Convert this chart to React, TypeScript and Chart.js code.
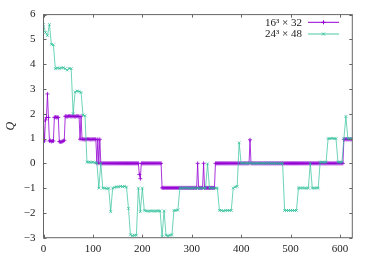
import React, { useEffect, useRef } from "react";
import { Chart, registerables } from "chart.js";

Chart.register(...registerables);

// configuration spacing of the two Monte-Carlo histories
const PURPLE_STEP = 2;
const GREEN_STEP = 4;

// 16^3 x 32 : Q at configurations 0, 2, 4, ... 624
const purpleQ: number[] = [
  1.7, 0.9, 1.75, 1.85, 2.8, 1.85, 0.9, 0.92, 0.88, 0.9,
  0.9, 1.85, 1.87, 1.85, 1.86, 1.85, 0.88, 0.86, 0.87, 0.88,
  0.9, 0.93, 1.9, 1.9, 1.88, 1.9, 1.91, 1.9, 1.89, 1.9,
  1.9, 1.9, 1.88, 1.9, 1.9, 1.9, 1.89, 0.97, 1.9, 0.97,
  0.97, 0.97, 0.96, 0.97, 0.97, 0.98, 0.97, 0.97, 0.96, 0.97,
  0.97, 0.97, 0.97, 0.97, 0.0, 0.97, 0.0, 0.97, 0.0, 0.0,
  0, 0, 0, 0, 0, 0, 0, 0, 0, 0,
  0, 0, 0, 0, 0, 0, 0, 0, 0, 0,
  0, 0, 0, 0, 0, 0, 0, 0, 0, 0,
  0, 0, 0, 0, 0, 0, 0, -0.45, -0.62, 0,
  0, 0, 0, 0, 0, 0, 0, 0, 0, 0,
  0, 0, 0, 0, 0, 0, 0, 0, 0, 0,
  -0.99, -0.99, -0.99, -0.99, -0.99, -0.99, -0.99, -0.99, -0.99, -0.99,
  -0.99, -0.99, -0.99, -0.99, -0.99, -0.99, -0.99, -0.99, -0.99, -0.99,
  -0.99, -0.99, -0.99, -0.99, -0.99, -0.99, -0.99, -0.99, -0.99, -0.99,
  -0.99, -0.99, -0.99, -0.99, -0.99, -0.99, 0, -0.99, -0.99, -0.99,
  -0.99, -0.99, 0, -0.99, -0.99, -0.99, -0.99, -0.99, -0.99, -0.99,
  -0.99, -0.99, -0.99, -0.99, 0, 0, 0, 0, 0, 0,
  0, 0, 0, 0, 0, 0, 0, 0, 0, 0,
  0, 0, 0, 0, 0, 0, 0, 0, 0, 0,
  0, 0, 0, 0, 0, 0, 0, 0, 0, 0.95,
  0, 0, 0, 0, 0, 0, 0, 0, 0, 0,
  0, 0, 0, 0, 0, 0, 0, 0, 0, 0,
  0, 0, 0, 0, 0, 0, 0, 0, 0, 0,
  0, 0, 0, 0, 0, 0, 0, 0, 0, 0,
  0, 0, 0, 0, 0, 0, 0, 0, 0, 0,
  0, 0, 0, 0, 0, 0, 0, 0, 0, 0,
  0, 0, 0, 0, 0, 0, 0, 0, 0, 0,
  0, 0, 0, 0, 0, 0, 0, 0, 0, 0,
  0, 0, 0, 0, 0, 0, 0, 0, 0, 0,
  0, 0, 0, 0, 0.97, 0.97, 0.97, 0.97, 0.97, 0.97,
  0.97, 0.97, 0.97,
];

// 24^3 x 48 : Q at configurations 0, 4, 8, ... 624
const greenQ: number[] = [
  5.6, 5.28, 5.15, 5.6, 4.8, 4.78, 3.82, 3.85, 3.83, 3.85,
  3.86, 3.82, 3.76, 3.83, 3.82, 2.0, 2.88, 2.92, 2.9, 2.86,
  1.95, 1.92, 0.05, 0.05, 0.04, 0.05, 0.03, 0.02, -1.0, 0.0,
  -1.0, -1.0, -1.02, -1.0, -1.95, -1.0, -0.97, -0.95, -0.95, -0.93,
  -0.94, -0.93, -0.96, -1.82, -2.88, -2.92, -2.9, -2.9, -1.0, -1.95,
  -1.0, -1.9, -1.92, -1.93, -1.92, -1.92, -1.93, -1.92, -1.92, -1.92,
  -2.95, -1.92, -2.9, -2.92, -2.9, -2.88, -1.9, -1.9, -1.88, -1.0,
  -1.0, -1.0, -0.98, -1.0, -1.0, -1.0, -0.99, -1.0, -1.0, -1.0,
  -1.0, -1.0, -1.0, -0.02, -1.0, -1.0, -1.0, -1.0, -1.0, -1.9,
  -1.9, -1.92, -1.9, -1.9, -1.9, -1.9, -1.0, -0.95, -0.93, 0.83,
  0.0, 0.02, 0.0, 0.01, 0.0, 0.02, 0.0, 0.0, 0.01, 0.0,
  0.0, 0.01, 0.0, 0.0, 0.02, 0.0, 0.0, 0.01, 0.0, 0.0,
  0.0, 0.0, -1.9, -1.9, -1.9, -1.9, -1.9, -1.9, -1.9, -0.99,
  -1.0, -0.99, -1.0, -1.0, -1.0, 0.0, -1.0, -1.0, -0.99, -1.0,
  0.05, 0.05, 0.04, 0.05, 1.0, 1.0, 1.01, 1.0, 1.0, 0.05,
  0.05, 0.05, 1.0, 1.89, 1.0, 1.0, 1.0,
];

const xTickValues = [0, 100, 200, 300, 400, 500, 600];
const yTickValues = [-3, -2, -1, 0, 1, 2, 3, 4, 5, 6];
const X_MIN = 0;
const X_MAX = 625;
const Y_MIN = -3;
const Y_MAX = 6;
const seriesLabels = ["16³ × 32", "24³ × 48"];
const yTitle = "Q";

const PURPLE = "#9400d3";
const GREEN = "rgba(40,190,150,0.85)";
const FONT = "'Liberation Serif', 'DejaVu Serif', serif";

const framePlugin = {
  id: "gnuFrame",
  afterDraw(chart: any) {
    const { ctx, chartArea, scales } = chart;
    const { left, right, top, bottom } = chartArea;
    const xs = scales.x;
    const ys = scales.y;
    ctx.save();
    ctx.strokeStyle = "#666";
    ctx.lineWidth = 1;
    ctx.strokeRect(left, top, right - left, bottom - top);
    ctx.beginPath();
    const tl = 3;
    for (const v of xTickValues) {
      const px = Math.round(xs.getPixelForValue(v)) + 0.5;
      ctx.moveTo(px, bottom);
      ctx.lineTo(px, bottom - tl);
      ctx.moveTo(px, top);
      ctx.lineTo(px, top + tl);
    }
    for (const v of yTickValues) {
      const py = Math.round(ys.getPixelForValue(v)) + 0.5;
      ctx.moveTo(left, py);
      ctx.lineTo(left + tl, py);
      ctx.moveTo(right, py);
      ctx.lineTo(right - tl, py);
    }
    ctx.stroke();

    // y axis title
    ctx.fillStyle = "#222";
    ctx.font = `italic 12px ${FONT}`;
    ctx.textAlign = "center";
    ctx.textBaseline = "middle";
    ctx.save();
    ctx.translate(11, (top + bottom) / 2);
    ctx.rotate(-Math.PI / 2);
    ctx.fillText(yTitle, 0, 0);
    ctx.restore();

    // legend
    const colors = [PURPLE, GREEN];
    const styles = ["cross", "crossRot"];
    const rowsY = [22.3, 34];
    ctx.font = `11px ${FONT}`;
    ctx.textAlign = "right";
    ctx.textBaseline = "middle";
    for (let i = 0; i < seriesLabels.length; i++) {
      const y = rowsY[i];
      ctx.fillStyle = "#222";
      ctx.fillText(seriesLabels[i], 302, y + 0.5);
      ctx.strokeStyle = colors[i];
      ctx.lineWidth = 1;
      ctx.beginPath();
      ctx.moveTo(308, y);
      ctx.lineTo(339, y);
      ctx.stroke();
      ctx.beginPath();
      const cx = 323.5;
      if (styles[i] === "cross") {
        ctx.moveTo(cx - 2, y);
        ctx.lineTo(cx + 2, y);
        ctx.moveTo(cx, y - 2);
        ctx.lineTo(cx, y + 2);
      } else {
        ctx.moveTo(cx - 1.5, y - 1.5);
        ctx.lineTo(cx + 1.5, y + 1.5);
        ctx.moveTo(cx - 1.5, y + 1.5);
        ctx.lineTo(cx + 1.5, y - 1.5);
      }
      ctx.stroke();
    }
    ctx.restore();
  },
};

export default function App() {
  const ref = useRef<HTMLCanvasElement | null>(null);
  useEffect(() => {
    if (!ref.current) return;
    const purpleData = purpleQ.map((q, i) => ({ x: i * PURPLE_STEP, y: q }));
    const greenData = greenQ.map((q, i) => ({ x: i * GREEN_STEP, y: q }));
    const chart = new Chart(ref.current, {
      type: "line",
      data: {
        datasets: [
          {
            label: seriesLabels[0],
            data: purpleData,
            borderColor: PURPLE,
            backgroundColor: PURPLE,
            borderWidth: 0.8,
            pointStyle: "cross",
            pointRadius: 2,
            pointBorderWidth: 0.8,
            pointBorderColor: PURPLE,
            order: 1,
          },
          {
            label: seriesLabels[1],
            data: greenData,
            borderColor: GREEN,
            backgroundColor: GREEN,
            borderWidth: 0.8,
            pointStyle: "crossRot",
            pointRadius: 2,
            pointBorderWidth: 0.8,
            pointBorderColor: GREEN,
            order: 0,
          },
        ],
      },
      options: {
        responsive: false,
        animation: false,
        devicePixelRatio: 1,
        layout: { padding: { top: 14, right: 21.7, bottom: 0, left: 0 } },
        plugins: { legend: { display: false }, tooltip: { enabled: false } },
        scales: {
          x: {
            type: "linear",
            min: X_MIN,
            max: X_MAX,
            afterBuildTicks: (s: any) => {
              s.ticks = xTickValues.map((v) => ({ value: v }));
            },
            afterFit: (s: any) => {
              s.height = 24.3;
            },
            grid: { display: false, drawTicks: false },
            border: { display: false },
            ticks: {
              padding: 5,
              color: "#222",
              font: { family: FONT, size: 11 },
              maxRotation: 0,
              autoSkip: false,
            },
          },
          y: {
            type: "linear",
            min: Y_MIN,
            max: Y_MAX,
            afterBuildTicks: (s: any) => {
              s.ticks = yTickValues.map((v) => ({ value: v }));
            },
            afterFit: (s: any) => {
              s.width = 43.5;
            },
            grid: { display: false, drawTicks: false },
            border: { display: false },
            ticks: {
              padding: 8,
              color: "#222",
              font: { family: FONT, size: 11 },
              autoSkip: false,
              callback: (v: any) => String(v).replace("-", "\u2212"),
            },
          },
        },
      },
      plugins: [framePlugin],
    });
    return () => chart.destroy();
  }, []);
  return (
    <div style={{ position: "absolute", left: 0, top: 0, width: 374, height: 262 }}>
      <canvas ref={ref} width={374} height={262} style={{ width: 374, height: 262 }} />
    </div>
  );
}
